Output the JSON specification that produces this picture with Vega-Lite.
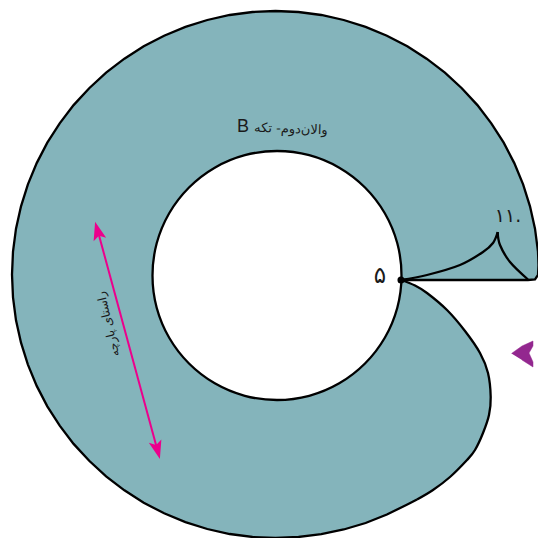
{
"$schema":"https://vega.github.io/schema/vega-lite/v6.json",
"width":538,"height":538,"padding":0,"autosize":"none","background":"white",
"config":{"view":{"stroke":null}},
"datasets":{
"outline":[
{"part":"edge","i":1,"x":401,"y":280},{"part":"edge","i":2,"x":528,"y":280},{"part":"edge","i":3,"x":535,"y":279.5},{"part":"edge","i":4,"x":538,"y":275},{"part":"edge","i":5,"x":538.5,"y":265},
{"part":"edge","i":6,"x":538,"y":251.5},{"part":"edge","i":7,"x":535,"y":228.7},{"part":"edge","i":8,"x":530,"y":206.3},{"part":"edge","i":9,"x":523.1,"y":184.4},{"part":"edge","i":10,"x":514.3,"y":163.1},{"part":"edge","i":11,"x":503.7,"y":142.7},{"part":"edge","i":12,"x":491.3,"y":123.4},{"part":"edge","i":13,"x":477.4,"y":105.1},{"part":"edge","i":14,"x":461.8,"y":88.2},{"part":"edge","i":15,"x":444.9,"y":72.6},{"part":"edge","i":16,"x":426.6,"y":58.7},{"part":"edge","i":17,"x":407.3,"y":46.3},{"part":"edge","i":18,"x":386.9,"y":35.7},{"part":"edge","i":19,"x":365.6,"y":26.9},{"part":"edge","i":20,"x":343.7,"y":20},{"part":"edge","i":21,"x":321.3,"y":15},{"part":"edge","i":22,"x":298.5,"y":12},{"part":"edge","i":23,"x":275.5,"y":11},
{"part":"edge","i":24,"x":252.5,"y":12},{"part":"edge","i":25,"x":229.7,"y":15},{"part":"edge","i":26,"x":207.3,"y":20},{"part":"edge","i":27,"x":185.4,"y":26.9},{"part":"edge","i":28,"x":164.1,"y":35.7},{"part":"edge","i":29,"x":143.7,"y":46.3},{"part":"edge","i":30,"x":124.4,"y":58.7},{"part":"edge","i":31,"x":106.1,"y":72.6},{"part":"edge","i":32,"x":89.2,"y":88.2},{"part":"edge","i":33,"x":73.6,"y":105.1},{"part":"edge","i":34,"x":59.7,"y":123.4},{"part":"edge","i":35,"x":47.3,"y":142.7},{"part":"edge","i":36,"x":36.7,"y":163.1},{"part":"edge","i":37,"x":27.9,"y":184.4},{"part":"edge","i":38,"x":21,"y":206.3},{"part":"edge","i":39,"x":16,"y":228.7},{"part":"edge","i":40,"x":13,"y":251.5},{"part":"edge","i":41,"x":12,"y":274.5},
{"part":"edge","i":42,"x":13,"y":297.5},{"part":"edge","i":43,"x":16,"y":320.3},{"part":"edge","i":44,"x":21,"y":342.7},{"part":"edge","i":45,"x":27.9,"y":364.6},{"part":"edge","i":46,"x":36.7,"y":385.9},{"part":"edge","i":47,"x":47.3,"y":406.3},{"part":"edge","i":48,"x":59.7,"y":425.6},{"part":"edge","i":49,"x":73.6,"y":443.9},{"part":"edge","i":50,"x":89.2,"y":460.8},{"part":"edge","i":51,"x":106.1,"y":476.4},{"part":"edge","i":52,"x":124.4,"y":490.3},{"part":"edge","i":53,"x":143.7,"y":502.7},{"part":"edge","i":54,"x":164.1,"y":513.3},{"part":"edge","i":55,"x":185.4,"y":522.1},{"part":"edge","i":56,"x":207.3,"y":529},{"part":"edge","i":57,"x":229.7,"y":534},{"part":"edge","i":58,"x":252.5,"y":537},{"part":"edge","i":59,"x":275.5,"y":538},
{"part":"edge","i":60,"x":298.5,"y":537},{"part":"edge","i":61,"x":321.3,"y":534.2},{"part":"edge","i":62,"x":343.7,"y":529.5},{"part":"edge","i":63,"x":365.6,"y":523},{"part":"edge","i":64,"x":386.9,"y":514.5},{"part":"edge","i":65,"x":407.3,"y":504.5},{"part":"edge","i":66,"x":417,"y":499.5},
{"part":"seam","i":67,"x":417,"y":499.5},{"part":"seam","i":68,"x":433,"y":490},{"part":"seam","i":69,"x":450,"y":477},{"part":"seam","i":70,"x":467,"y":460},{"part":"seam","i":71,"x":475,"y":450},{"part":"seam","i":72,"x":483,"y":433},{"part":"seam","i":73,"x":489,"y":415},{"part":"seam","i":74,"x":490.7,"y":397},{"part":"seam","i":75,"x":488,"y":373},{"part":"seam","i":76,"x":480,"y":353},{"part":"seam","i":77,"x":465,"y":331},{"part":"seam","i":78,"x":447,"y":310},{"part":"seam","i":79,"x":427,"y":293},{"part":"seam","i":80,"x":415,"y":285.5},{"part":"seam","i":81,"x":401,"y":280}
],
"hole":[
{"i":1,"x":401.5,"y":275.5},{"i":2,"x":397.3,"y":243.3},{"i":3,"x":384.8,"y":213.25},{"i":4,"x":365,"y":187.5},{"i":5,"x":339.25,"y":167.7},{"i":6,"x":309.2,"y":155.2},{"i":7,"x":277,"y":151},{"i":8,"x":244.8,"y":155.2},{"i":9,"x":214.75,"y":167.7},{"i":10,"x":189,"y":187.5},{"i":11,"x":169.2,"y":213.25},{"i":12,"x":156.7,"y":243.3},{"i":13,"x":152.5,"y":275.5},{"i":14,"x":156.7,"y":307.7},{"i":15,"x":169.2,"y":337.75},{"i":16,"x":189,"y":363.5},{"i":17,"x":214.75,"y":383.3},{"i":18,"x":244.8,"y":395.8},{"i":19,"x":277,"y":400},{"i":20,"x":309.2,"y":395.8},{"i":21,"x":339.25,"y":383.3},{"i":22,"x":365,"y":363.5},{"i":23,"x":384.8,"y":337.75},{"i":24,"x":397.3,"y":307.7}
],
"dart":[
{"part":"a","i":1,"x":401,"y":280},{"part":"a","i":2,"x":427,"y":275},{"part":"a","i":3,"x":460,"y":265},{"part":"a","i":4,"x":483,"y":252},{"part":"a","i":5,"x":493,"y":243},{"part":"a","i":6,"x":497.7,"y":232},
{"part":"b","i":1,"x":497.7,"y":232},{"part":"b","i":2,"x":500,"y":245},{"part":"b","i":3,"x":510,"y":262},{"part":"b","i":4,"x":528,"y":279.5}
],
"marker":[
{"i":1,"x":511.5,"y":353.5},{"i":2,"x":522,"y":346},{"i":3,"x":533,"y":341},{"i":4,"x":533,"y":346},{"i":5,"x":529,"y":353},{"i":6,"x":533,"y":362},{"i":7,"x":533,"y":367},{"i":8,"x":522,"y":360}
],
"arrow":[{"i":1,"x":97,"y":228},{"i":2,"x":158.5,"y":454}]
},
"encoding":{"x":{"field":"x","type":"quantitative","scale":{"domain":[0,538],"nice":false,"zero":false},"axis":null},"y":{"field":"y","type":"quantitative","scale":{"domain":[0,538],"reverse":true,"nice":false,"zero":false},"axis":null}},
"layer":[
{"data":{"name":"outline"},"mark":{"type":"line","fill":"#84b4bb","stroke":null,"clip":true},
 "encoding":{"order":{"field":"i"}}},
{"data":{"name":"marker"},"mark":{"type":"line","fill":"#93278f","stroke":"#93278f","strokeWidth":0.5},
 "encoding":{"order":{"field":"i"}}},
{"data":{"name":"outline"},"mark":{"type":"line","stroke":"black","strokeWidth":2.3,"clip":true},"transform":[{"filter":"datum.part=='edge'"}],
 "encoding":{"order":{"field":"i"}}},
{"data":{"name":"outline"},"mark":{"type":"line","stroke":"black","strokeWidth":2.3,"interpolate":"cardinal"},"transform":[{"filter":"datum.part=='seam'"}],
 "encoding":{"order":{"field":"i"}}},
{"data":{"name":"dart"},"mark":{"type":"line","stroke":"black","strokeWidth":2.3,"interpolate":"cardinal"},
 "encoding":{"detail":{"field":"part"},"order":{"field":"i"}}},
{"data":{"name":"hole"},"mark":{"type":"line","fill":"white","stroke":"black","strokeWidth":2.3,"interpolate":"cardinal-closed"},
 "encoding":{"order":{"field":"i"}}},
{"data":{"name":"arrow"},"mark":{"type":"line","stroke":"#ec008c","strokeWidth":2},
 "encoding":{"order":{"field":"i"}}},
{"data":{"values":[{"x":97.7,"y":231.3}]},"mark":{"type":"point","filled":true,"opacity":1,"color":"#ec008c","size":400,"angle":345,"shape":"M0,-1 L0.65,0.85 L0,0.45 L-0.65,0.85 Z"}},
{"data":{"values":[{"x":157.3,"y":449.4}]},"mark":{"type":"point","filled":true,"opacity":1,"color":"#ec008c","size":400,"angle":165,"shape":"M0,-1 L0.65,0.85 L0,0.45 L-0.65,0.85 Z"}},
{"data":{"values":[{"x":401,"y":280}]},"mark":{"type":"point","filled":true,"opacity":1,"color":"black","size":50}},
{"data":{"values":[{"x":243,"y":127,"t":"B"}]},"mark":{"type":"text","font":"Liberation Sans","fontSize":18,"color":"#1a1a1a","align":"center","baseline":"middle"},
 "encoding":{"text":{"field":"t"}}},
{"data":{"values":[{"x":291,"y":129,"t":"والان‌دوم- تکه"}]},"mark":{"type":"text","font":"DejaVu Sans","fontSize":13,"color":"#1a1a1a","align":"center","baseline":"middle","angle":2},
 "encoding":{"text":{"field":"t"}}},
{"data":{"values":[{"x":380,"y":276,"t":"۵"}]},"mark":{"type":"text","font":"DejaVu Sans","fontSize":23,"color":"#1a1a1a","align":"center","baseline":"middle"},
 "encoding":{"text":{"field":"t"}}},
{"data":{"values":[{"x":508,"y":216,"t":"۱۱."}]},"mark":{"type":"text","font":"DejaVu Sans","fontSize":19,"color":"#1a1a1a","align":"center","baseline":"middle"},
 "encoding":{"text":{"field":"t"}}},
{"data":{"values":[{"x":108,"y":324,"t":"راستای پارچه"}]},"mark":{"type":"text","font":"DejaVu Sans","fontSize":12,"color":"#1a1a1a","align":"center","baseline":"middle","angle":257},
 "encoding":{"text":{"field":"t"}}}
]
}
